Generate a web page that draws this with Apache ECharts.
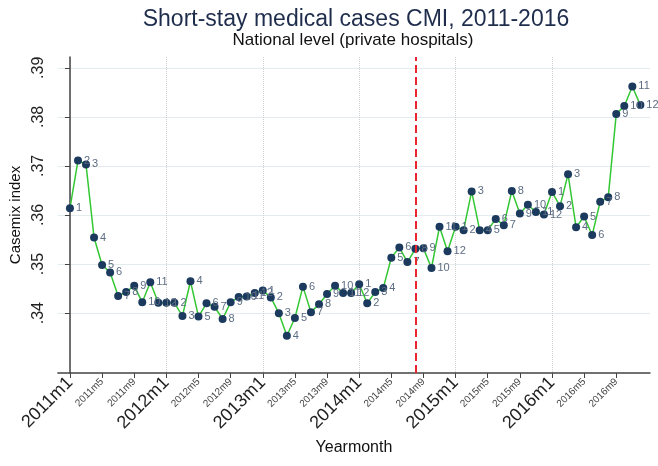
<!DOCTYPE html>
<html style="height: 100%">
<head>
<meta charset="utf-8">
<script src="https://cdn.jsdelivr.net/npm/echarts@6/dist/echarts.min.js"></script>
</head>
<body style="height: 100%; margin: 0; background: #fff">
<div id="container" style="width: 658px; height: 466px"></div>
<script type="text/javascript">
// monthly CMI, 2011m1 .. 2016m12 (index 0 = 2011m1)
var cmi = [
    0.3614, 0.3711, 0.3703, 0.3554, 0.3498, 0.3483, 0.3435, 0.3443, 0.3456, 0.3422, 0.3463, 0.3421,
    0.3421, 0.3421, 0.3394, 0.3465, 0.3393, 0.3420, 0.3413, 0.3388, 0.3422, 0.3433, 0.3434, 0.3441,
    0.3446, 0.3432, 0.3400, 0.3354, 0.3390, 0.3454, 0.3402, 0.3418, 0.3439, 0.3456, 0.3441, 0.3441,
    0.3459, 0.3420, 0.3443, 0.3451, 0.3513, 0.3534, 0.3504, 0.3531, 0.3532, 0.3492, 0.3576, 0.3526,
    0.3576, 0.3569, 0.3648, 0.3569, 0.3569, 0.3592, 0.3579, 0.3649, 0.3603, 0.3621, 0.3606, 0.3601,
    0.3647, 0.3618, 0.3683, 0.3575, 0.3597, 0.3559, 0.3627, 0.3636, 0.3806, 0.3822, 0.3862, 0.3824
];
var startYear = 2011;
var xTicks = [0, 4, 8, 12, 16, 20, 24, 28, 32, 36, 40, 44, 48, 52, 56, 60, 64, 68];
var xMajor = [0, 12, 24, 36, 48, 60];
var yTicks = [0.34, 0.35, 0.36, 0.37, 0.38, 0.39];
var breakMonth = 43; // 2014m8

var points = cmi.map(function (v, i) { return [i, v]; });

function ym(i) {
    return (startYear + Math.floor(i / 12)) + 'm' + (i % 12 + 1);
}

var chart = echarts.init(document.getElementById('container'));
var font = '"Liberation Sans", Arial, sans-serif';

chart.setOption({
    backgroundColor: '#fff',
    animation: false,
    title: [{
        text: 'Short-stay medical cases CMI, 2011-2016',
        left: 351, top: 3, textAlign: 'center',
        textStyle: { fontFamily: font, fontSize: 23, fontWeight: 'normal', color: '#1f2d4d' }
    }, {
        text: 'National level (private hospitals)',
        left: 348, top: 27, textAlign: 'center',
        textStyle: { fontFamily: font, fontSize: 17, fontWeight: 'normal', color: '#111' }
    }],
    grid: { left: 53, right: 8, top: 57, bottom: 93 },
    xAxis: [{
        type: 'value',
        min: -1.5, max: 72.2,
        name: 'Yearmonth', nameLocation: 'middle', nameGap: 66,
        nameTextStyle: { fontFamily: font, fontSize: 16, color: '#111' },
        axisLine: { lineStyle: { color: '#444', width: 1.5 } },
        axisTick: { customValues: xTicks, length: 5, lineStyle: { color: '#444' } },
        axisLabel: {
            customValues: xTicks, rotate: 45, margin: 7,
            formatter: function (v) {
                var i = Math.round(v);
                return i % 12 === 0 ? '{big|' + ym(i) + '}' : '{small|' + ym(i) + '}';
            },
            rich: {
                big: { fontFamily: font, fontSize: 18, color: '#222' },
                small: { fontFamily: font, fontSize: 10, color: '#444' }
            }
        },
        splitLine: { show: false }
    }, {
        type: 'value',
        min: -1.5, max: 72.2,
        position: 'bottom',
        axisLine: { show: false },
        axisTick: { show: false, customValues: xMajor },
        axisLabel: { show: false },
        splitLine: { show: true, lineStyle: { color: '#cfcfcf', type: 'dotted', width: 1 } }
    }],
    yAxis: {
        type: 'value',
        min: 0.3278, max: 0.3922,
        name: 'Casemix index', nameLocation: 'middle', nameGap: 31,
        nameTextStyle: { fontFamily: font, fontSize: 15, color: '#111' },
        axisLine: { show: true, lineStyle: { color: '#444', width: 1.5 } },
        axisTick: { show: true, customValues: yTicks, length: 5, lineStyle: { color: '#444' } },
        axisLabel: {
            customValues: yTicks, rotate: 90, margin: 11,
            fontFamily: font, fontSize: 16, color: '#222',
            formatter: function (v) { return v.toFixed(2).replace(/^0/, ''); }
        },
        splitLine: { show: true, lineStyle: { color: '#e3ebee', width: 1 } }
    },
    series: [{
        // reference line behind the data
        type: 'line',
        xAxisIndex: 0,
        data: [],
        z: 1,
        markLine: {
            silent: true, symbol: 'none',
            label: { show: false },
            lineStyle: { color: '#e8262b', type: [8, 4], width: 2 },
            data: [{ xAxis: breakMonth }]
        }
    }, {
        type: 'line',
        xAxisIndex: 0,
        data: points,
        z: 3,
        symbol: 'circle',
        symbolSize: 8,
        itemStyle: { color: '#1b3a5e' },
        lineStyle: { color: '#33c833', width: 1.5 },
        label: {
            show: true, position: 'right', distance: 2,
            fontFamily: font, fontSize: 11, color: '#5d6d82',
            formatter: function (p) { return String(p.value[0] % 12 + 1); }
        }
    }]
});
</script>
</body>
</html>
